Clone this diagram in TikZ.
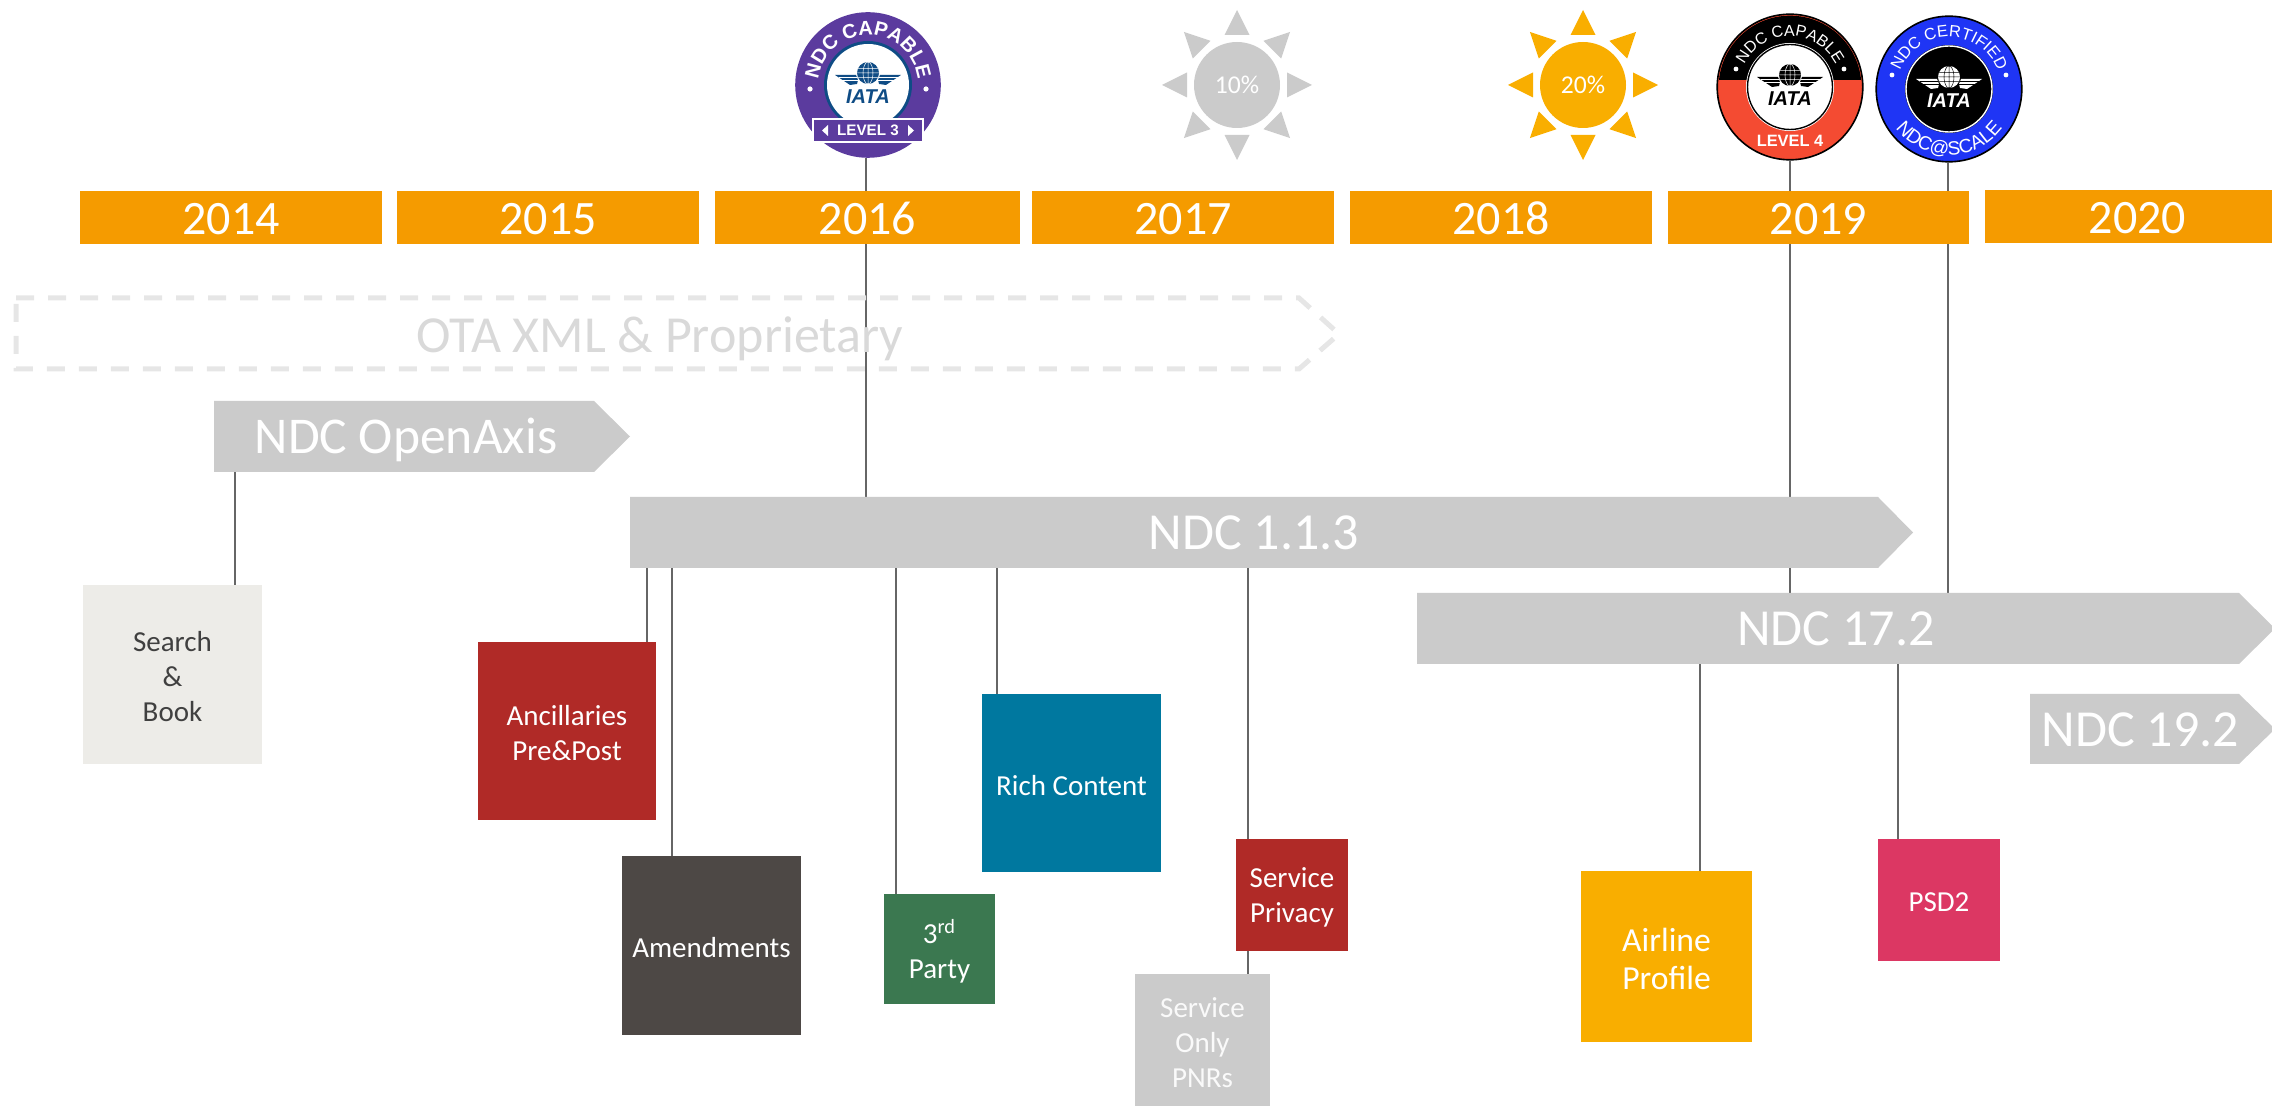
\documentclass[tikz,border=0pt]{standalone}
\usepackage{fontspec}
\setmainfont{Carlito}
\newfontfamily\bdgfont{Liberation Sans}
\usetikzlibrary{decorations.text,backgrounds}
\definecolor{yearc}{HTML}{F59B00}
\definecolor{barc}{HTML}{CBCBCB}
\definecolor{linec}{HTML}{666666}
\definecolor{otac}{HTML}{E6E6E6}
\definecolor{otat}{HTML}{D9D9D9}
\definecolor{purp}{HTML}{5B3B9E}
\definecolor{iatab}{HTML}{0F4C85}
\definecolor{redb}{HTML}{F44B32}
\definecolor{blub}{HTML}{1F35F5}
\definecolor{sunc}{HTML}{F9AE00}
\definecolor{ancc}{HTML}{B02A27}
\definecolor{amec}{HTML}{4D4845}
\definecolor{thic}{HTML}{3B7850}
\definecolor{ricc}{HTML}{00789F}
\definecolor{psdc}{HTML}{DC3763}
\definecolor{seac}{HTML}{EDECE8}
\tikzset{
  yearbox/.style={text=white,inner sep=0pt,text height=15pt,text depth=0pt,font=\fontsize{24}{25}\selectfont},
  barlabel/.style={inner sep=0pt,text=white,text height=16.5pt,text depth=0pt,font=\fontsize{26}{28}\selectfont},
  conn/.style={draw=linec,line width=1pt},
  infobox/.style={inner sep=0pt,align=center,text=white,yshift=-1.2pt,font=\fontsize{14.5}{17.5}\selectfont},
  badgebase/.style={circle,inner sep=0pt,minimum size=72.8pt},
}
% name, x0, y0, x1, y1, fill, text, style
\newcommand{\rectbox}[8]{%
  \path[fill=#6] (#2,#3) rectangle (#4,#5);
  \node[infobox,#8] (#1) at ({(#2+#4)/2},{(#3+#5)/2}) {#7};
  \coordinate (#1T) at ({(#2+#4)/2},#3);
  \coordinate (#1B) at ({(#2+#4)/2},#5);
}
% name, x0, base, tip, y0, y1, text
\newcommand{\pentbar}[7]{%
  \path[fill=barc] (#2,#5) -- (#3,#5) -- (#4,{(#5+#6)/2}) -- (#3,#6) -- (#2,#6) -- cycle;
  \node[barlabel] (#1) at ({(#2+#3)/2},{(#5+#6)/2+1}) {#7};
  \coordinate (#1T) at (#2,#5);
  \coordinate (#1B) at (#2,#6);
}
\newcommand{\yearb}[4]{%
  \path[fill=yearc] (#1,#3) rectangle (#2,#3+53);
  \node[yearbox] (y#4) at ({(#1+#2)/2},#3+29) {#4};
}
% radius, start, end, font, text
\newcommand{\curved}[5]{%
  \path[decorate,decoration={text along path,text align=center,text color=white,
    text={|\bdgfont#4|#5}}]
    (#2:#1) arc[start angle=#2,end angle=#3,radius=#1];
}
\newcommand{\iatalogo}[2]{% ink, paper
  \begin{scope}[shift={(0,3)}]
  \fill[#1] (0,9) circle (11);
  \draw[#2,line width=.25pt] (0,9) ellipse (5 and 11) (0,-2) -- (0,20) (-11,9) -- (11,9) (-10,4.5) -- (10,4.5) (-10,13.5) -- (10,13.5);
  \foreach \s in {1,-1}{
    \begin{scope}[xscale=\s]
    \fill[#1] (33,7) -- (12,7) -- (10,2) -- (11,-2) -- (18,-3) -- cycle;
    \draw[#2,line width=.35pt] (29.5,4.5) -- (11,4.5) (26,1.5) -- (10,1.5);
    \end{scope}}
  \node[inner sep=0pt,text=#1,font=\bdgfont\bfseries\itshape\fontsize{10}{10}\selectfont] at (0,-15) {IATA};
  \end{scope}
}
\newcommand{\sunshape}[3]{% colour, name, text
  \foreach \a in {0,45,...,315}{
    \fill[#1,rotate=\a] (75,0) -- (50,12.5) -- (50,-12.5) -- cycle;
  }
  \node[circle,fill=#1,inner sep=0pt,minimum size=43pt,text=white,font=\fontsize{12.8}{14}\selectfont] (#2) at (0,0) {#3};
}
\begin{document}
\begin{tikzpicture}[x=0.5pt,y=-0.5pt]
\useasboundingbox (0,0) rectangle (2272,1106);
% years
\yearb{80}{382}{191}{2014}
\yearb{397}{699}{191}{2015}
\yearb{715}{1020}{191}{2016}
\yearb{1032}{1334}{191}{2017}
\yearb{1350}{1652}{191}{2018}
\yearb{1668}{1969}{191}{2019}
\yearb{1985}{2290}{190}{2020}
% OTA
\draw[otac,line width=2.5pt,dash pattern=on 9pt off 7pt] (16,298) -- (1299,298) -- (1339,334) -- (1299,369) -- (16,369) -- cycle;
\node[inner sep=0pt,text=otat,text height=16.5pt,text depth=0pt,font=\fontsize{26}{28}\selectfont] (ota) at (660,336) {OTA XML \& Proprietary};
% bars
\pentbar{oax}{214}{594}{630}{401}{472}{\hspace{2pt}\fontsize{25.8}{28}\selectfont NDC OpenAxis}
\pentbar{n113}{630}{1878}{1913}{497}{568}{NDC 1.1.3}
\pentbar{n172}{1417}{2239}{2275}{593}{664}{\hspace{8pt}NDC 17.2}
\pentbar{n192}{2030}{2239}{2275}{694}{764}{\hspace{6pt}NDC 19.2}
% boxes
\rectbox{sb}{83}{585}{262}{764}{seac}{Search\\\&\\Book}{text=black!75}
\rectbox{anc}{478}{642}{656}{820}{ancc}{Ancillaries\\Pre\&Post}{}
\rectbox{ame}{622}{856}{801}{1035}{amec}{Amendments}{}
\rectbox{thi}{884}{894}{995}{1004}{thic}{3\textsuperscript{rd}\\Party}{}
\rectbox{ric}{982}{694}{1161}{872}{ricc}{Rich Content}{}
\rectbox{spr}{1236}{839}{1348}{951}{ancc}{Service\\Privacy}{}
\rectbox{son}{1135}{974}{1270}{1106}{barc}{Service\\Only\\PNRs}{text=white!90!barc}
\rectbox{air}{1581}{871}{1752}{1042}{sunc}{Airline\\Profile}{font=\fontsize{16.8}{19}\selectfont}
\rectbox{psd}{1878}{839}{2000}{961}{psdc}{PSD2}{}
% suns
\begin{scope}[shift={(1237,85)},x=0.5pt,y=0.5pt]\sunshape{barc}{suna}{10\%}\end{scope}
\begin{scope}[shift={(1583,85)},x=0.5pt,y=0.5pt]\sunshape{sunc}{sunb}{20\%}\end{scope}
% badge level 3
\node[badgebase,fill=purp] (b3) at (868,85) {};
\begin{scope}[shift={(868,85)},x=0.5pt,y=0.5pt]
  \fill[iatab] (0,0) circle (44);
  \fill[white] (0,0) circle (41);
  \iatalogo{iatab}{white}
  \curved{50}{172}{8}{\bfseries\fontsize{10}{11}\selectfont}{NDC CAPABLE}
  \fill[white] (-58,-4) circle (2.6) (58,-4) circle (2.6);
  \fill[white] (-56,-33) rectangle (56,-58);
  \fill[purp] (-54,-35) rectangle (54,-56);
  \fill[white] (-46,-45.5) -- (-40,-40) -- (-40,-51) -- cycle (46,-45.5) -- (40,-40) -- (40,-51) -- cycle;
  \node[inner sep=0pt,text=white,font=\bdgfont\bfseries\fontsize{7.6}{9}\selectfont] at (0,-45.5) {LEVEL 3};
\end{scope}
% badge level 4
\node[badgebase,draw=black,line width=.8pt,fill=redb] (b4) at (1790,87) {};
\begin{scope}[shift={(1790,87)},x=0.5pt,y=0.5pt]
  \fill[black] (-71,7) arc[start angle=174.3,end angle=5.7,radius=71.4] -- cycle;
  \fill[white] (0,0) circle (44);
  \draw[black,line width=.7pt] (0,0) circle (42.5);
  \iatalogo{black}{white}
  \curved{51}{165}{15}{\fontsize{8}{10}\selectfont}{NDC CAPABLE}
  \fill[white] (-54,18) circle (2.4) (54,18) circle (2.4);
  \node[inner sep=0pt,text=white,font=\bdgfont\bfseries\fontsize{8.2}{10}\selectfont] at (0,-54) {LEVEL 4};
\end{scope}
% badge certified
\node[badgebase,draw=black,line width=.8pt,fill=blub] (bc) at (1949,89) {};
\begin{scope}[shift={(1949,89)},x=0.5pt,y=0.5pt]
  \fill[black] (0,0) circle (44);
  \draw[white,line width=.7pt] (0,0) circle (43);
  \iatalogo{white}{black}
  \curved{52}{168}{12}{\fontsize{8.2}{10}\selectfont}{NDC CERTIFIED}
  \fill[white] (-57,14) circle (2.4) (57,14) circle (2.4);
  \curved{66}{-158}{-22}{\fontsize{9.6}{10}\selectfont}{NDC@SCALE}
\end{scope}
% connectors
\begin{pgfonlayer}{background}
\draw[conn] (866,0 |- b3.south) -- (866,0 |- n113T);
\draw[conn] (1790,0 |- b4.south) -- (1790,0 |- n172T);
\draw[conn] (1948,0 |- bc.south) -- (1948,0 |- n172T);
\draw[conn] (235,0 |- oaxB) -- (235,0 |- sbT);
\draw[conn] (647,0 |- n113B) -- (647,0 |- ancT);
\draw[conn] (672,0 |- n113B) -- (672,0 |- ameT);
\draw[conn] (896,0 |- n113B) -- (896,0 |- thiT);
\draw[conn] (997,0 |- n113B) -- (997,0 |- ricT);
\draw[conn] (1248,0 |- n113B) -- (1248,0 |- sprT);
\draw[conn] (1248,0 |- sprB) -- (1248,0 |- sonT);
\draw[conn] (1700,0 |- n172B) -- (1700,0 |- airT);
\draw[conn] (1898,0 |- n172B) -- (1898,0 |- psdT);
\end{pgfonlayer}
\end{tikzpicture}
\end{document}
